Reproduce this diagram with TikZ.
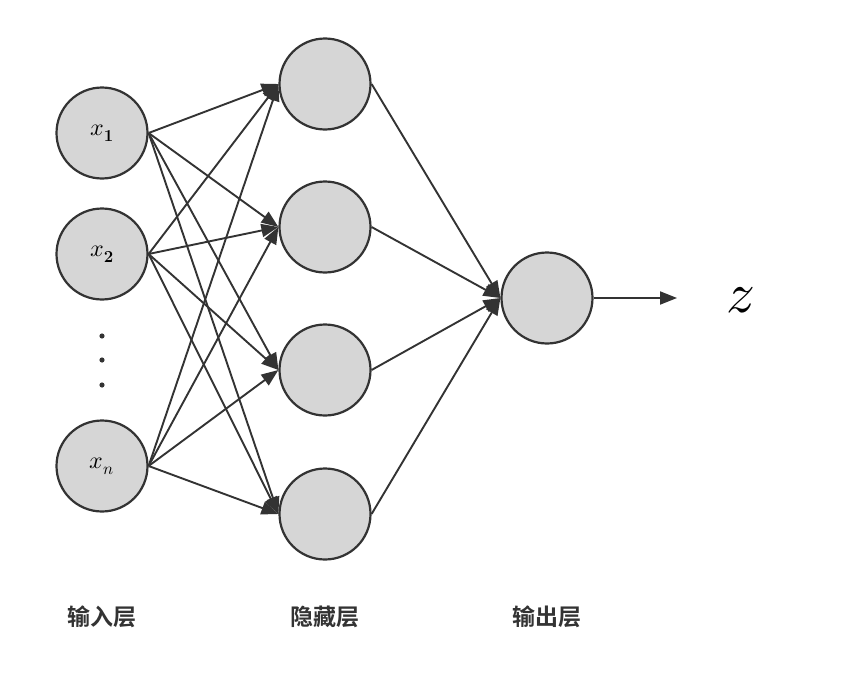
\documentclass[tikz,border=0pt]{standalone}
\usepackage{fontspec}
\usepackage{amsmath}
\usepackage{unicode-math}
\setmathfont{Latin Modern Math}
\newfontfamily\cjk{Noto Sans CJK SC}[BoldFont={Noto Sans CJK SC Bold}]
\usetikzlibrary{arrows.meta,positioning}
\definecolor{linecol}{HTML}{333333}
\definecolor{nodefill}{HTML}{D6D6D6}

\begin{document}
\begin{tikzpicture}[
    x=1pt, y=-1pt,
    >={Triangle[length=17pt,width=13pt]},
    neuron/.style={circle, draw=linecol, fill=nodefill, line width=2.2pt,
        minimum size=91pt, inner sep=0pt, font=\fontsize{24}{26}\selectfont},
    link/.style={->, draw=linecol, line width=1.9pt},
    layerlabel/.style={font=\cjk\bfseries\fontsize{23}{25}\selectfont, text=linecol}
]
    \useasboundingbox (0,0) rectangle (844,680);

    % input layer
    \node[neuron] (in1) at (102,133) {$x_{\mathbf{1}}$};
    \node[neuron] (in2) at (102,254) {$x_{\mathbf{2}}$};
    \node[neuron] (inn) at (102,466) {$x_n$};
    \foreach \y in {336,360,385}
        \fill[linecol] (102,\y) circle (2.6pt);

    % hidden layer
    \foreach \i/\y in {1/84,2/227,3/370,4/514}
        \node[neuron] (hid\i) at (325,\y) {};

    % output layer
    \node[neuron] (out) at (547,298) {};
    \coordinate (zin) at (677,298);
    \node[font=\fontsize{57}{60}\selectfont] (zout) at (741,300) {$z$};

    \foreach \a in {in1,in2,inn}
        \foreach \b in {1,...,4}
            \draw[link] (\a.east) -- (hid\b.west);
    \foreach \b in {1,...,4}
        \draw[link] (hid\b.east) -- (out.west);
    \draw[link] (out.east) -- (zin);

    \node[layerlabel] (lblin) at (102,617) {输入层};
    \node[layerlabel] (lblhid) at (325,617) {隐藏层};
    \node[layerlabel] (lblout) at (547,617) {输出层};
\end{tikzpicture}
\end{document}
